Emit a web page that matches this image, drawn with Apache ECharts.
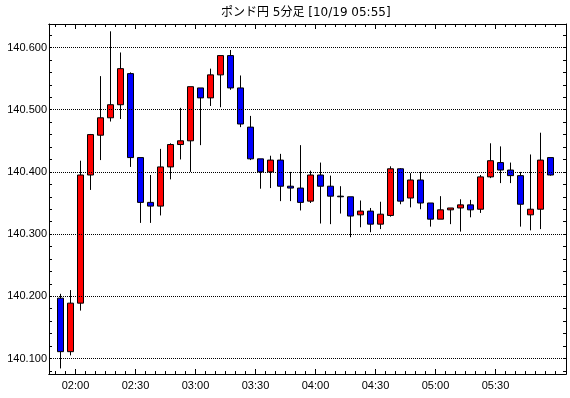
<!DOCTYPE html>
<html><head><meta charset="utf-8">
<script src="https://cdn.jsdelivr.net/npm/echarts@6/dist/echarts.min.js"></script>
<style>html,body{margin:0;padding:0;background:#fff}#c{width:570px;height:398px}</style>
</head><body><div id="c"></div>
<script>
const titleText = 'ポンド円 5分足 [10/19 05:55]';
const times = ['01:50','01:55','02:00','02:05','02:10','02:15','02:20','02:25','02:30','02:35',
  '02:40','02:45','02:50','02:55','03:00','03:05','03:10','03:15','03:20','03:25',
  '03:30','03:35','03:40','03:45','03:50','03:55','04:00','04:05','04:10','04:15',
  '04:20','04:25','04:30','04:35','04:40','04:45','04:50','04:55','05:00','05:05',
  '05:10','05:15','05:20','05:25','05:30','05:35','05:40','05:45','05:50','05:55'];
const open = [140.197,140.111,140.189,140.395,140.459,140.487,140.508,140.558,140.423,140.351,
  140.345,140.408,140.444,140.450,140.535,140.519,140.556,140.587,140.535,140.472,
  140.421,140.400,140.419,140.377,140.374,140.353,140.395,140.377,140.361,140.360,
  140.331,140.337,140.316,140.330,140.405,140.358,140.387,140.350,140.324,140.339,
  140.342,140.347,140.340,140.392,140.415,140.403,140.394,140.331,140.340,140.423];
const close = [140.111,140.189,140.395,140.460,140.487,140.508,140.566,140.423,140.351,140.345,
  140.408,140.444,140.450,140.537,140.519,140.556,140.587,140.535,140.477,140.421,
  140.400,140.419,140.377,140.374,140.351,140.395,140.377,140.361,140.360,140.329,
  140.337,140.316,140.332,140.405,140.353,140.387,140.350,140.324,140.339,140.342,
  140.347,140.339,140.392,140.418,140.403,140.394,140.348,140.340,140.419,140.395];
const low = [140.084,140.105,140.177,140.371,140.419,140.481,140.485,140.408,140.318,140.318,
  140.330,140.388,140.420,140.400,140.443,140.506,140.504,140.532,140.472,140.419,
  140.373,140.374,140.353,140.353,140.338,140.350,140.317,140.316,140.333,140.295,
  140.311,140.303,140.308,140.328,140.348,140.343,140.340,140.312,140.324,140.316,
  140.304,140.327,140.334,140.390,140.382,140.382,140.312,140.306,140.308,140.394];
const high = [140.204,140.210,140.418,140.461,140.554,140.626,140.592,140.560,140.423,140.395,
  140.437,140.446,140.503,140.537,140.535,140.566,140.587,140.596,140.555,140.490,
  140.421,140.426,140.429,140.400,140.443,140.402,140.415,140.394,140.377,140.360,
  140.354,140.342,140.352,140.409,140.406,140.398,140.400,140.350,140.361,140.342,
  140.356,140.355,140.395,140.446,140.441,140.415,140.400,140.428,140.463,140.423];
const xTickLabels = ['02:00','02:30','03:00','03:30','04:00','04:30','05:00','05:30'];
const yTickLabels = [140.1,140.2,140.3,140.4,140.5,140.6];

const xMin = -1.15, xMax = 50.55;
const yMin = 140.07508, yMax = 140.63778;
const minorX = [-0.5].concat(times.map((t, i) => i + 0.5));
const majorX = xTickLabels.map(l => times.indexOf(l) - 0.5);
const yTicks = [];
for (let k = 4; k <= 31; k++) yTicks.push(+(140 + k * 0.02).toFixed(2));

const box = {left: 49, top: 24, width: 517, height: 350};
const lab = {color: '#000', fontFamily: 'Liberation Sans', fontSize: 11};

function xAx(grid, pos, ticks, len, labels) {
  return {
    type: 'value', gridIndex: grid, position: pos, min: xMin, max: xMax,
    axisLine: {show: true, onZero: false, lineStyle: {color: '#000', width: 1}},
    axisTick: {show: true, inside: true, length: len, customValues: ticks, lineStyle: {color: '#000', width: 1}},
    axisLabel: labels ? Object.assign({show: true, margin: 6, customValues: majorX,
      formatter: v => { const j = majorX.findIndex(m => Math.abs(m - v) < 1e-6); return j >= 0 ? xTickLabels[j] : ''; }}, lab)
      : {show: false},
    splitLine: {show: false}
  };
}
function yAx(grid, pos, labels, show) {
  return {
    type: 'value', gridIndex: grid, position: pos, min: yMin, max: yMax, show: show,
    axisLine: {show: true, onZero: false, lineStyle: {color: '#000', width: 1}},
    axisTick: {show: true, inside: true, length: 3, customValues: yTicks, lineStyle: {color: '#000', width: 1}},
    axisLabel: labels ? Object.assign({show: true, margin: 2, customValues: yTickLabels,
      formatter: v => v.toFixed(3)}, lab) : {show: false},
    splitLine: {show: false}
  };
}

const chart = echarts.init(document.getElementById('c'), null, {renderer: 'canvas'});
chart.setOption({
  animation: false,
  backgroundColor: '#fff',
  title: {text: titleText, left: 216, top: 2, padding: 5,
    textStyle: {fontFamily: "'DejaVu Sans', 'Noto Sans CJK JP'", fontSize: 12, fontWeight: 'normal', color: '#000'}},
  grid: [Object.assign({}, box), Object.assign({}, box)],
  xAxis: [xAx(0, 'bottom', minorX, 3, false), xAx(0, 'top', minorX, 3, false),
          xAx(1, 'bottom', majorX, 5, true), xAx(1, 'top', majorX, 5, false)],
  yAxis: [yAx(0, 'left', true, true), yAx(0, 'right', false, true), yAx(1, 'left', false, false)],
  series: [{
    type: 'candlestick',
    xAxisIndex: 0, yAxisIndex: 0,
    barWidth: 6,
    silent: true,
    itemStyle: {color: '#ff0000', color0: '#0000ff', borderColor: '#000', borderColor0: '#000',
      borderColorDoji: '#000', borderWidth: 1},
    data: times.map((t, i) => [i, open[i], close[i], low[i], high[i]]),
    markLine: {
      silent: true, symbol: ['none', 'none'], label: {show: false},
      lineStyle: {color: '#000', type: [1, 1], width: 1},
      data: yTickLabels.map(v => ({yAxis: v}))
    }
  }]
});
</script></body></html>
